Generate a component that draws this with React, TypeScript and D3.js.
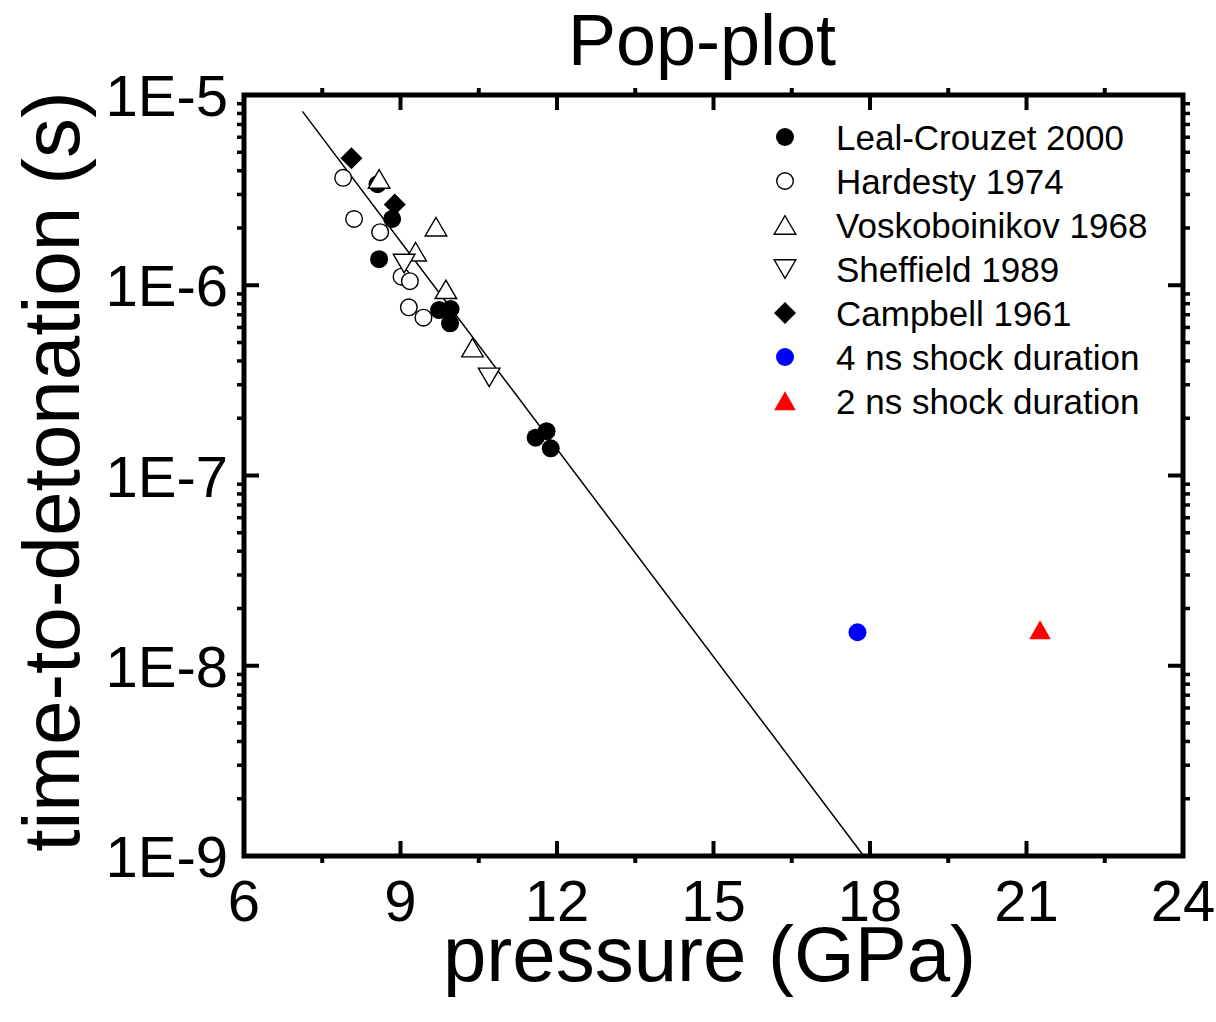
import React from "react";
import * as d3 from "d3";

// ---- data (pressure GPa, time-to-detonation s) ----
const lealP = [8.56, 8.84, 8.59, 9.74, 9.96, 9.95, 11.59, 11.80, 11.88];
const lealT = [3.40e-6, 2.23e-6, 1.37e-6, 7.41e-7, 7.50e-7, 6.31e-7, 1.58e-7, 1.71e-7, 1.39e-7];

const hardP = [7.90, 8.11, 8.61, 9.02, 9.18, 9.16, 9.44];
const hardT = [3.67e-6, 2.23e-6, 1.90e-6, 1.11e-6, 1.05e-6, 7.66e-7, 6.75e-7];

const voskP = [8.59, 9.68, 9.29, 9.87, 10.38];
const voskT = [3.62e-6, 2.03e-6, 1.50e-6, 9.52e-7, 4.70e-7];

const sheffP = [9.07, 10.70];
const sheffT = [1.30e-6, 3.28e-7];

const campP = [8.06, 8.89];
const campT = [4.65e-6, 2.66e-6];

const ns4P = [17.76];
const ns4T = [1.50e-8];

const ns2P = [21.26];
const ns2T = [1.54e-8];

const fitP = [7.12, 17.88];
const fitT = [8.2e-6, 1.0e-9];

const xTicks = [6, 9, 12, 15, 18, 21, 24];
const xMinor = [7.5, 10.5, 13.5, 16.5, 19.5, 22.5];
const yTicks = [1e-9, 1e-8, 1e-7, 1e-6, 1e-5];
const yTickLabels = ["1E-9", "1E-8", "1E-7", "1E-6", "1E-5"];

const legendLabels = [
  "Leal-Crouzet 2000",
  "Hardesty 1974",
  "Voskoboinikov 1968",
  "Sheffield 1989",
  "Campbell 1961",
  "4 ns shock duration",
  "2 ns shock duration",
];

const FONT = "'Liberation Sans', Arial, Helvetica, sans-serif";

type Kind = "circleFilled" | "circleOpen" | "triUp" | "triDown" | "diamond" | "circleBlue" | "triRed";

function Marker({ kind, x, y }: { kind: Kind; x: number; y: number }) {
  const r = 9;
  const tw = 10.8;
  const th = 18.5;
  switch (kind) {
    case "circleFilled":
      return <circle cx={x} cy={y} r={r} fill="#000" />;
    case "circleBlue":
      return <circle cx={x} cy={y} r={r} fill="#0000ff" />;
    case "circleOpen":
      return <circle cx={x} cy={y} r={r - 0.7} fill="#fff" stroke="#000" strokeWidth={1.4} />;
    case "triUp":
      return (
        <path
          d={`M${x},${y - th / 2}L${x + tw},${y + th / 2}L${x - tw},${y + th / 2}Z`}
          fill="#fff"
          stroke="#000"
          strokeWidth={1.4}
        />
      );
    case "triRed":
      return (
        <path
          d={`M${x},${y - th / 2 - 0.5}L${x + tw},${y + th / 2}L${x - tw},${y + th / 2}Z`}
          fill="#ff0000"
        />
      );
    case "triDown":
      return (
        <path
          d={`M${x - tw},${y - th / 2}L${x + tw},${y - th / 2}L${x},${y + th / 2}Z`}
          fill="#fff"
          stroke="#000"
          strokeWidth={1.4}
        />
      );
    case "diamond":
      return (
        <path d={`M${x},${y - 11}L${x + 11},${y}L${x},${y + 11}L${x - 11},${y}Z`} fill="#000" />
      );
  }
  return null;
}

export default function App() {
  const W = 1216;
  const H = 1022;
  const x0 = 244, x1 = 1183, y0 = 95, y1 = 856;
  const xScale = d3.scaleLinear().domain([6, 24]).range([x0, x1]);
  const yScale = d3.scaleLog().domain([1e-9, 1e-5]).range([y1, y0]);

  const yMinor: number[] = [];
  for (let e = -9; e < -5; e++) {
    for (let m = 2; m <= 9; m++) yMinor.push(m * Math.pow(10, e));
  }

  const series: { kind: Kind; P: number[]; T: number[] }[] = [
    { kind: "circleOpen", P: hardP, T: hardT },
    { kind: "circleFilled", P: lealP, T: lealT },
    { kind: "triUp", P: voskP, T: voskT },
    { kind: "triDown", P: sheffP, T: sheffT },
    { kind: "diamond", P: campP, T: campT },
    { kind: "circleBlue", P: ns4P, T: ns4T },
    { kind: "triRed", P: ns2P, T: ns2T },
  ];
  const legendKinds: Kind[] = ["circleFilled", "circleOpen", "triUp", "triDown", "diamond", "circleBlue", "triRed"];

  const line = d3
    .line<number>()
    .x((_, i) => xScale(fitP[i]))
    .y((_, i) => yScale(fitT[i]));

  const majorLen = 15;
  const minorLen = 7;
  const axisW = 5;

  return (
    <svg
      width={W}
      height={H}
      style={{ position: "absolute", left: 0, top: 0, background: "#fff" }}
      fontFamily={FONT}
    >
      <rect x={0} y={0} width={W} height={H} fill="#fff" />
      {/* title */}
      <text x={702} y={65} fontSize={72} textAnchor="middle" fill="#000">
        Pop-plot
      </text>

      {/* fit line */}
      <path d={line(fitP) || ""} fill="none" stroke="#000" strokeWidth={1.5} />

      {/* data */}
      {series.map((s, si) =>
        s.P.map((p, i) => <Marker key={`${si}-${i}`} kind={s.kind} x={xScale(p)} y={yScale(s.T[i])} />)
      )}

      {/* ticks x */}
      {xTicks.map((t) => (
        <g key={`xt${t}`}>
          <line x1={xScale(t)} x2={xScale(t)} y1={y1} y2={y1 - majorLen} stroke="#000" strokeWidth={4} />
          <line x1={xScale(t)} x2={xScale(t)} y1={y0} y2={y0 + majorLen} stroke="#000" strokeWidth={4} />
          <text x={xScale(t)} y={921} fontSize={58} textAnchor="middle" fill="#000">
            {t}
          </text>
        </g>
      ))}
      {xMinor.map((t) => (
        <g key={`xm${t}`}>
          <line x1={xScale(t)} x2={xScale(t)} y1={y1} y2={y1 + minorLen} stroke="#000" strokeWidth={4} />
          <line x1={xScale(t)} x2={xScale(t)} y1={y0} y2={y0 - minorLen} stroke="#000" strokeWidth={4} />
        </g>
      ))}
      {/* ticks y */}
      {yTicks.map((t, i) => (
        <g key={`yt${i}`}>
          <line x1={x0} x2={x0 + majorLen} y1={yScale(t)} y2={yScale(t)} stroke="#000" strokeWidth={4} />
          <line x1={x1} x2={x1 - majorLen} y1={yScale(t)} y2={yScale(t)} stroke="#000" strokeWidth={4} />
          <text x={228} y={yScale(t) + 21} fontSize={58} textAnchor="end" fill="#000">
            {yTickLabels[i]}
          </text>
        </g>
      ))}
      {yMinor.map((t, i) => (
        <g key={`ym${i}`}>
          <line x1={x0} x2={x0 - minorLen} y1={yScale(t)} y2={yScale(t)} stroke="#000" strokeWidth={3.5} />
          <line x1={x1} x2={x1 + minorLen} y1={yScale(t)} y2={yScale(t)} stroke="#000" strokeWidth={3.5} />
        </g>
      ))}

      {/* frame */}
      <rect x={x0} y={y0} width={x1 - x0} height={y1 - y0} fill="none" stroke="#000" strokeWidth={axisW} />

      {/* axis titles */}
      <text x={(x0 + x1) / 2 - 4} y={981} fontSize={78} textAnchor="middle" fill="#000">
        pressure (GPa)
      </text>
      <text
        transform={`translate(79,${(y0 + y1) / 2 - 4}) rotate(-90)`}
        fontSize={80}
        textAnchor="middle"
        fill="#000"
      >
        time-to-detonation (s)
      </text>

      {/* legend */}
      {legendLabels.map((lab, i) => {
        const cy = 137 + i * 44;
        return (
          <g key={`lg${i}`}>
            <Marker kind={legendKinds[i]} x={785} y={cy} />
            <text x={836} y={cy + 12.5} fontSize={35} fill="#000">
              {lab}
            </text>
          </g>
        );
      })}
    </svg>
  );
}
